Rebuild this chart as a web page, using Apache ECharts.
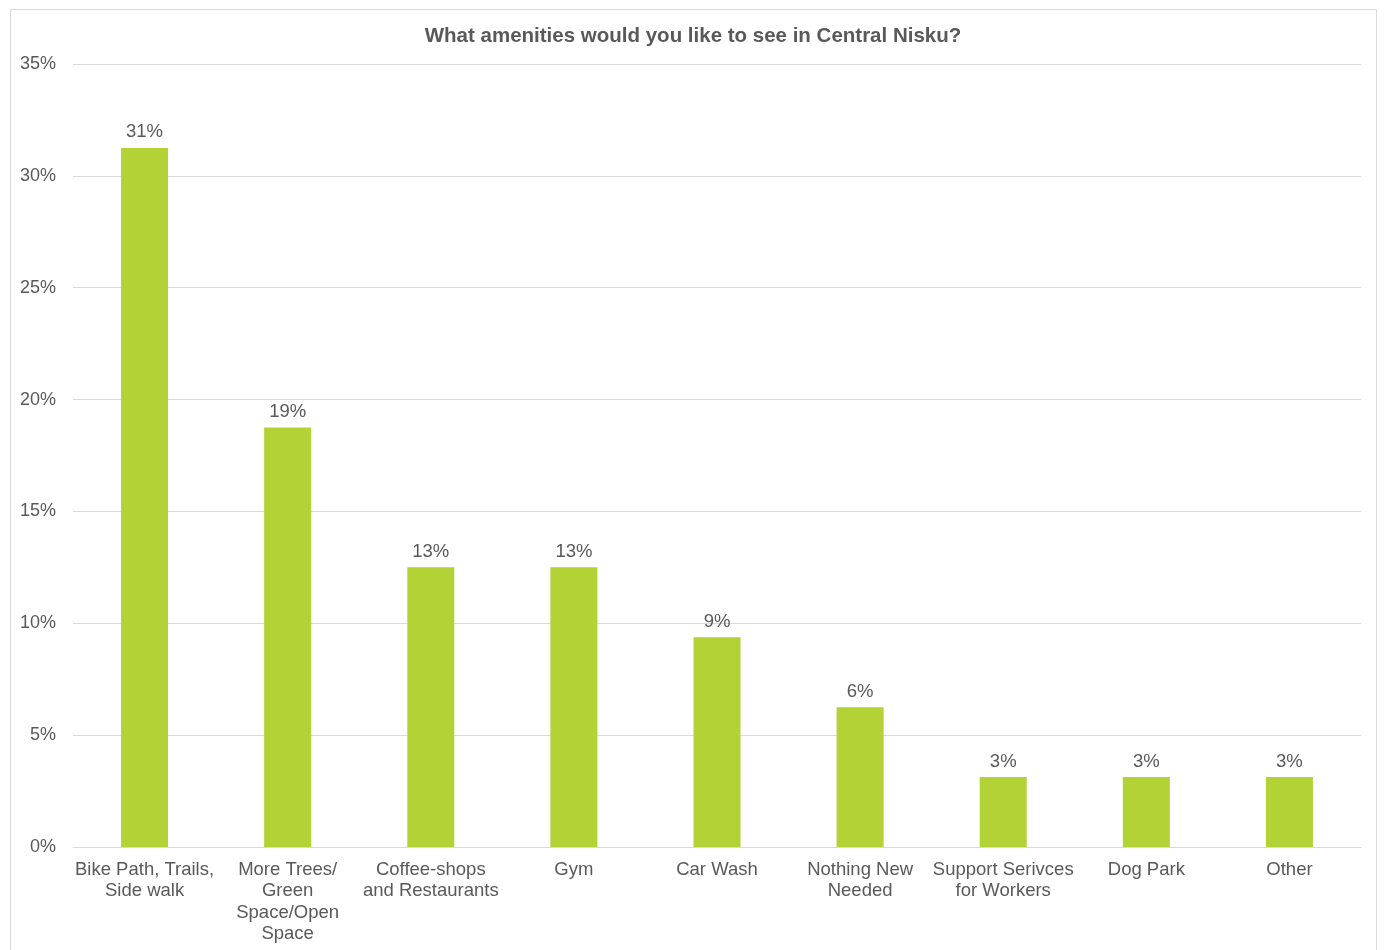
<!DOCTYPE html>
<html>
<head>
<meta charset="utf-8">
<script src="https://cdn.jsdelivr.net/npm/echarts@6/dist/echarts.min.js"></script>
<style>
  html, body { margin: 0; padding: 0; background: #ffffff; }
  #chart { width: 1386px; height: 950px; }
</style>
</head>
<body>
<div id="chart"></div>
<script>
// Survey responses: share of respondents choosing each amenity
const categories = [
  'Bike Path, Trails,\nSide walk',
  'More Trees/\nGreen\nSpace/Open\nSpace',
  'Coffee-shops\nand Restaurants',
  'Gym',
  'Car Wash',
  'Nothing New\nNeeded',
  'Support Serivces\nfor Workers',
  'Dog Park',
  'Other'
];
const shares = [31.25, 18.75, 12.5, 12.5, 9.375, 6.25, 3.125, 3.125, 3.125];
const titleText = 'What amenities would you like to see in Central Nisku?';

const textColor = '#595959';
const fontFamily = '"Liberation Sans", Arial, sans-serif';

const chart = echarts.init(document.getElementById('chart'), null, { renderer: 'canvas' });
chart.setOption({
  backgroundColor: '#ffffff',
  animation: false,
  graphic: [{
    type: 'rect',
    shape: { x: 10.5, y: 9.5, width: 1366, height: 960 },
    style: { fill: 'none', stroke: '#d9d9d9', lineWidth: 1 },
    silent: true
  }],
  title: {
    text: titleText,
    left: 'center',
    top: 21,
    textStyle: { color: textColor, fontSize: 20.5, fontWeight: 'bold', fontFamily: fontFamily }
  },
  grid: { left: 73, right: 25, top: 64, bottom: 103, containLabel: false },
  xAxis: {
    type: 'category',
    data: categories,
    axisLine: { show: true, lineStyle: { color: '#d9d9d9', width: 1 } },
    axisTick: { show: false },
    axisLabel: {
      interval: 0,
      color: textColor,
      fontSize: 18.5,
      lineHeight: 21.5,
      margin: 12,
      fontFamily: fontFamily
    }
  },
  yAxis: {
    type: 'value',
    min: 0,
    max: 35,
    interval: 5,
    axisLine: { show: false },
    axisTick: { show: false },
    splitLine: { lineStyle: { color: '#d9d9d9', width: 1 } },
    axisLabel: {
      formatter: v => v + '%',
      color: textColor,
      fontSize: 18,
      margin: 17,
      fontFamily: fontFamily
    }
  },
  series: [{
    type: 'bar',
    data: shares,
    barWidth: 47,
    itemStyle: { color: '#b3d236' },
    label: {
      show: true,
      position: 'top',
      distance: 6,
      formatter: p => p.value.toFixed(0) + '%',
      color: textColor,
      fontSize: 18.5,
      fontFamily: fontFamily
    }
  }]
});
</script>
</body>
</html>
